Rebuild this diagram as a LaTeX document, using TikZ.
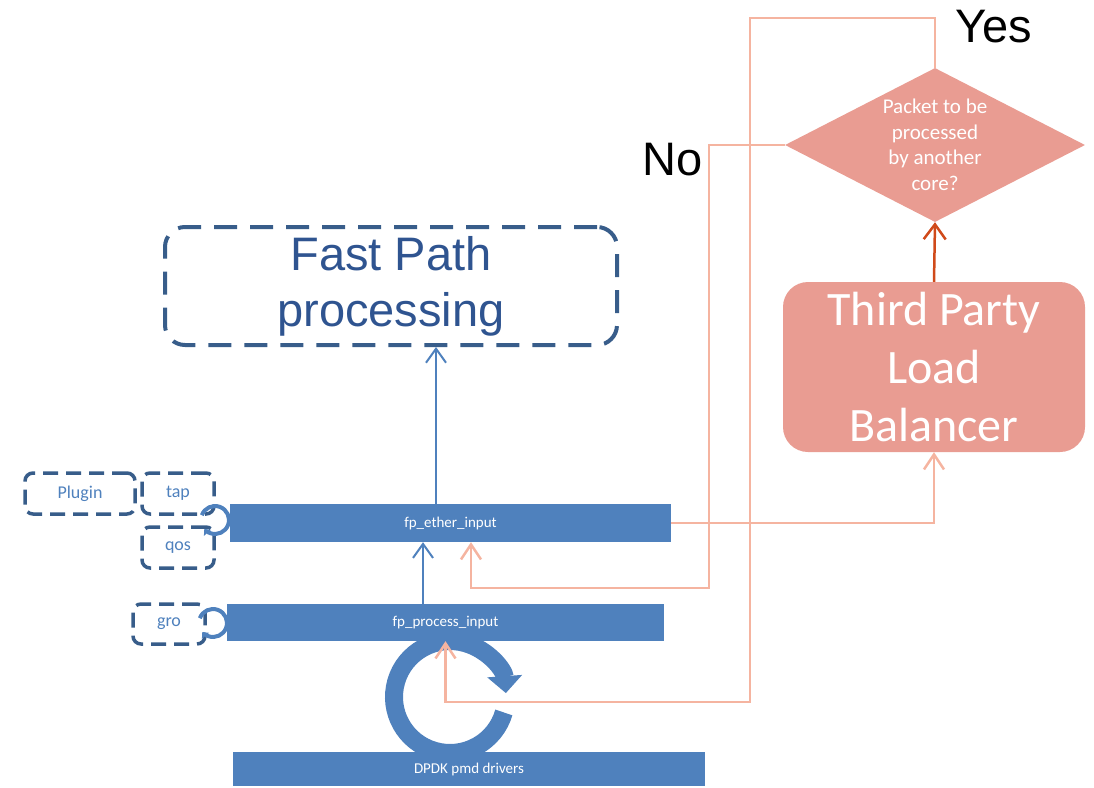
\documentclass[tikz,border=0pt]{standalone}
\usepackage{fontspec}
\setmainfont{Carlito}
\newfontfamily\arialfont{Liberation Sans}
\usetikzlibrary{arrows.meta,shapes.geometric}

\definecolor{barblue}{HTML}{4F81BD}
\definecolor{dashblue}{HTML}{385D8A}
\definecolor{fptext}{HTML}{2F5490}
\definecolor{salmonline}{HTML}{F5B4A0}
\definecolor{lbfill}{HTML}{E99C92}
\definecolor{darkorange}{HTML}{D04A1A}

\begin{document}
\begin{tikzpicture}[x=1pt,y=-1pt,
  bar/.style={fill=barblue, text=white, inner sep=0pt, font=\fontsize{15}{17}\selectfont},
  plug/.style={draw=dashblue, line width=3.5pt, dash pattern=on 15pt off 8pt, rounded corners=8pt,
    text=barblue, inner sep=0pt, minimum width=72pt, minimum height=41pt, font=\fontsize{18}{20}\selectfont},
  knob/.style={draw=barblue, line width=4pt},
  bluearrow/.style={draw=barblue, line width=2pt, -{Straight Barb[length=14pt,width=20pt]}},
  nextarrow/.style={draw=salmonline, line width=2.5pt, -{Straight Barb[length=15pt,width=20pt]}},
  lbbox/.style={fill=lbfill, text=white, rounded corners=25pt, inner sep=0pt, align=center},
  answer/.style={font=\arialfont\fontsize{47}{50}\selectfont, anchor=base west, inner sep=0pt}
]
\useasboundingbox (0,0) rectangle (1094,787);

% Rotating arrow between the drivers and fp_process_input (drawn under the bars)
\draw[barblue, line width=18pt, -{Triangle[length=17pt,width=34pt]}]
  (450,697) ++(16:56) arc[start angle=16, end angle=356, radius=56];

% Fast path blocks
\node[draw=dashblue, line width=4pt, dash pattern=on 23pt off 13pt, rounded corners=20pt,
  minimum width=452pt, minimum height=118pt, inner sep=0pt, align=center, text=fptext,
  font=\arialfont\fontsize{47}{56}\selectfont] (fast) at (391,286) {Fast Path\\processing};
\node[bar, minimum width=441pt, minimum height=38pt] (ether) at (450.5,523) {fp\_ether\_input};
\node[bar, minimum width=437pt, minimum height=37pt] (proc) at (445.5,622.5) {fp\_process\_input};
\node[bar, minimum width=472pt, minimum height=34pt] (dpdk) at (469,769) {DPDK pmd drivers};

% Plugins hooked on the inputs
\node[plug, minimum width=110pt] (plugin) at (80,493.5) {Plugin};
\node[plug] (tap) at (178,493.5) {tap};
\node[plug] (qos) at (178,547.5) {qos};
\node[plug, minimum height=40pt] (gro) at (169,624) {gro};
\draw[knob, -{Triangle[length=5pt,width=9pt]}] (215,520) ++(200:14) arc[start angle=200, end angle=500, radius=14];
\draw[knob, -{Triangle[length=5pt,width=9pt]}] (213,623) ++(200:14) arc[start angle=200, end angle=500, radius=14];

% Load balancer and decision
\node[lbbox, minimum width=302pt, minimum height=170pt, font=\fontsize{48}{58}\selectfont]
  (lb) at (934,367) {Third Party\\Load\\Balancer};
\node[diamond, fill=lbfill, text=white, inner xsep=-10pt, inner ysep=0pt, aspect=2, minimum width=300pt, minimum height=154pt,
  align=center, font=\fontsize{21}{25.5}\selectfont] (dec) at (935,145) {Packet to be\\processed\\by another\\core?};

\coordinate (yesT) at (750,18);
\coordinate (yesB) at (750,702);
\coordinate (noK) at (709,588);

% Connectors
\draw[bluearrow] ([xshift=-14.5pt]ether.north) -- ([xshift=-14.5pt]ether.north |- fast.south);
\draw[bluearrow] ([xshift=-22.5pt]proc.north) -- ([xshift=-22.5pt]proc.north |- ether.south);
\draw[nextarrow] (ether.east) -| (lb.south);
\draw[darkorange, line width=2.5pt, -{Straight Barb[length=15pt,width=22pt]}] (lb.north) -- (dec.south);
\draw[nextarrow] (dec.north) |- (yesT) -- (yesB) -| (proc.south);
\draw[nextarrow] (dec.west) -| (noK) -| ([xshift=20.5pt]ether.south);

\node[answer] (yes) at (955,42) {Yes};
\node[answer] (no) at (642,175) {No};
\end{tikzpicture}
\end{document}
